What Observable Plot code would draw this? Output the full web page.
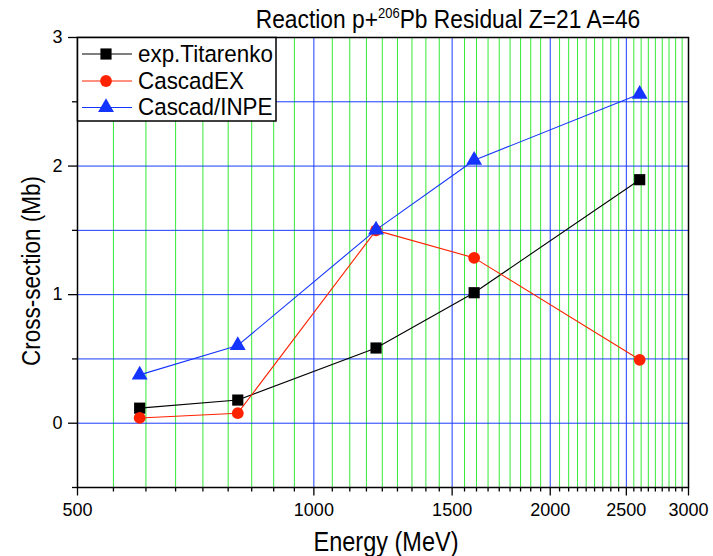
<!DOCTYPE html>
<html>
<head>
<meta charset="utf-8">
<script src="https://cdn.jsdelivr.net/npm/d3@7"></script>
<script src="https://cdn.jsdelivr.net/npm/@observablehq/plot@0.6"></script>
<style>
  body { margin: 0; background: #fff; }
  #chart { width: 713px; height: 556px; }
</style>
</head>
<body>
<div id="chart"></div>
<script>
// Beam energies (MeV) and residual cross-sections (mb) for Z=21, A=46
const energies   = [600, 800, 1200, 1600, 2600];
const titarenko  = [0.117, 0.180, 0.585, 1.015, 1.894];
const cascadEX   = [0.041, 0.078, 1.500, 1.286, 0.493];
const cascadINPE = [0.376, 0.605, 1.504, 2.045, 2.560];

const seriesNames   = ["exp.Titarenko", "CascadEX", "Cascad/INPE"];
const seriesColors  = ["#000000", "#ff2200", "#1434ff"];
const seriesSymbols = ["square", "circle", "triangle"];

const xMajorTicks = [500, 1000, 1500, 2000, 2500, 3000];
const yMajorTicks = [0, 1, 2, 3];
const yMinorTicks = [-0.5, 0.5, 1.5, 2.5];
const yGrid = [0, 0.5, 1, 1.5, 2, 2.5];
const xBlueGrid = [1000, 1500, 2000, 2500];
// eight minor ticks inside every 500 MeV major step
const xMinorTicks = xMajorTicks.slice(0, -1)
  .flatMap(m => d3.range(1, 9).map(k => m + k * 500 / 9));

const titleMain = "Reaction p+";
const titleSup = "206";
const titleRest = "Pb Residual Z=21 A=46";
const xLabel = "Energy (MeV)";
const yLabel = "Cross-section (Mb)";

const GREEN = "#36ea36";
const BLUE = "#1a3cff";
const FONT = "'Liberation Sans', Arial, sans-serif";

const seriesValues = [titarenko, cascadEX, cascadINPE];
const tables = seriesValues.map((vals, s) =>
  energies.map((e, i) => ({ energy: e, value: vals[i], series: seriesNames[s] })));

const symbolR = { square: 6.3, circle: 5.9, triangle: 5.9 };

const seriesMarks = tables.flatMap((rows, s) => [
  Plot.line(rows, { x: "energy", y: "value", stroke: seriesColors[s], strokeWidth: 1.1 }),
  Plot.dot(rows, {
    x: "energy", y: "value", symbol: () => seriesSymbols[s],
    r: symbolR[seriesSymbols[s]], fill: seriesColors[s], stroke: "none"
  })
]);

const chart = Plot.plot({
  width: 713,
  height: 556,
  marginLeft: 77,
  marginRight: 25,
  marginTop: 37,
  marginBottom: 69,
  style: { fontFamily: FONT, fontSize: "18px", color: "#000", background: "#fff" },
  x: { type: "log", domain: [500, 3000] },
  y: { domain: [-0.5, 3] },
  symbol: { type: "identity" },
  marks: [
    Plot.ruleX(xMinorTicks, { stroke: GREEN, strokeWidth: 1 }),
    Plot.ruleX(xBlueGrid, { stroke: BLUE, strokeWidth: 1 }),
    Plot.ruleY(yGrid, { stroke: BLUE, strokeWidth: 1 }),
    Plot.axisX(xMinorTicks, { tickSize: 4.5, tickFormat: () => "", label: null, strokeWidth: 1.3 }),
    Plot.axisX(xMajorTicks, { tickSize: 8.5, tickPadding: 7, tickFormat: d => String(d), fontSize: 18, label: null, strokeWidth: 1.3 }),
    Plot.axisY(yMinorTicks, { tickSize: 5, tickFormat: () => "", label: null, strokeWidth: 1.3 }),
    Plot.axisY(yMajorTicks, { tickSize: 9, tickPadding: 6, tickFormat: d => String(d), fontSize: 18, label: null, strokeWidth: 1.3 }),
    ...seriesMarks,
    Plot.frame({ stroke: "#000", strokeWidth: 1.5 })
  ]
});

document.getElementById("chart").appendChild(chart);

const svg = d3.select(chart);

// Title with superscript mass number
const title = svg.append("text")
  .attr("transform", "translate(448,28) scale(1,1.12)")
  .attr("text-anchor", "middle")
  .style("font-family", FONT).style("font-size", "22.8px").attr("fill", "#000");
title.append("tspan").text(titleMain);
title.append("tspan").attr("dy", -9).style("font-size", "13px").text(titleSup);
title.append("tspan").attr("dy", 9).text(titleRest);

// Axis titles
svg.append("text")
  .attr("transform", "translate(386,551) scale(1,1.15)")
  .attr("text-anchor", "middle")
  .style("font-family", FONT).style("font-size", "23.5px").attr("fill", "#000")
  .text(xLabel);

svg.append("text")
  .attr("transform", "translate(40,271) rotate(-90) scale(1,1.15)")
  .attr("text-anchor", "middle")
  .style("font-family", FONT).style("font-size", "22.5px").attr("fill", "#000")
  .text(yLabel);

// Legend box in the upper-left corner of the frame
const legend = svg.append("g").attr("text-anchor", "start");
legend.append("rect")
  .attr("x", 77.5).attr("y", 37.5).attr("width", 198.5).attr("height", 83.5)
  .attr("fill", "#fff").attr("stroke", "#000").attr("stroke-width", 1.5);

const legendRows = [54, 81, 107.5];
const d3Symbols = { square: d3.symbolSquare, circle: d3.symbolCircle, triangle: d3.symbolTriangle };
seriesNames.forEach((name, s) => {
  const cy = legendRows[s];
  const sym = seriesSymbols[s];
  legend.append("line")
    .attr("x1", 82).attr("x2", 132).attr("y1", cy).attr("y2", cy)
    .attr("stroke", seriesColors[s]).attr("stroke-width", 1.1);
  legend.append("path")
    .attr("transform", `translate(106,${cy})`)
    .attr("d", d3.symbol(d3Symbols[sym], Math.PI * symbolR[sym] ** 2)())
    .attr("fill", seriesColors[s]);
  legend.append("text")
    .attr("transform", `translate(138,${cy + 7.8}) scale(1,1.06)`)
    .attr("text-anchor", "start")
    .style("font-family", FONT).style("font-size", "22.4px").attr("fill", "#000")
    .text(name);
});
</script>
</body>
</html>
